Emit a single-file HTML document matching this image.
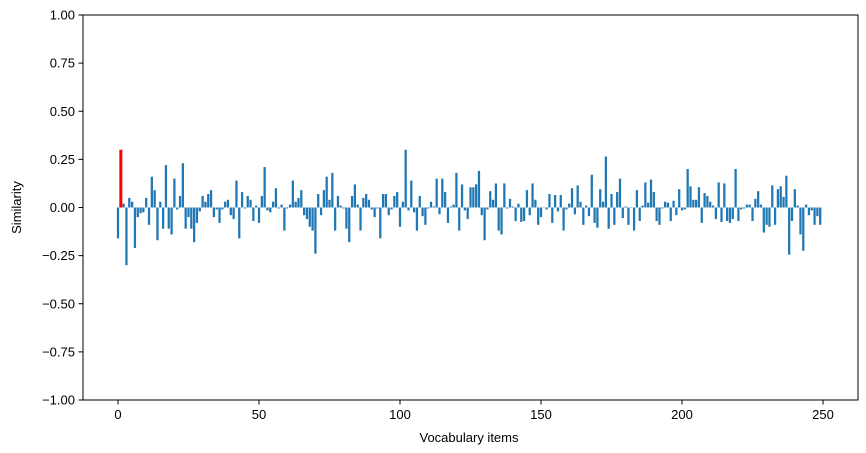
<!DOCTYPE html>
<html><head><meta charset="utf-8"><style>
body{margin:0;background:#fff;}
svg{display:block;font-family:"Liberation Sans","DejaVu Sans",sans-serif;}
</style></head><body>
<svg id="chart" width="866" height="453" viewBox="0 0 866 453" xmlns="http://www.w3.org/2000/svg">
<rect x="0" y="0" width="866" height="453" fill="#fff"/>
<g id="bars"></g>
<g id="axes"></g>
<rect x="83" y="15" width="775" height="385" fill="none" stroke="#000" stroke-width="1"/>
<text x="469" y="442" text-anchor="middle" font-size="13">Vocabulary items</text>
<text transform="translate(21,207.5) rotate(-90)" text-anchor="middle" font-size="13">Similarity</text>
</svg>
<script>
const values = [
-0.16,0.30,0.02,-0.30,0.05,0.03,-0.21,-0.05,-0.03,-0.025,
0.05,-0.09,0.16,0.09,-0.17,0.03,-0.11,0.22,-0.11,-0.14,
0.15,-0.01,0.06,0.23,-0.11,-0.05,-0.11,-0.18,-0.08,-0.02,
0.06,0.03,0.07,0.09,-0.05,-0.01,-0.08,-0.01,0.03,0.04,
-0.04,-0.06,0.14,-0.16,0.08,-0.005,0.06,0.04,-0.07,0.01,
-0.08,0.06,0.21,-0.015,-0.025,0.03,0.10,-0.005,0.015,-0.12,
-0.005,0.015,0.14,0.03,0.05,0.09,-0.04,-0.06,-0.10,-0.12,
-0.24,0.07,-0.04,0.09,0.16,0.04,0.18,-0.12,0.06,0.01,
-0.005,-0.11,-0.18,0.06,0.12,0.015,-0.12,0.05,0.07,0.04,
-0.01,-0.05,-0.005,-0.16,0.07,0.07,-0.04,-0.01,0.06,0.08,
-0.10,0.03,0.30,-0.015,0.14,-0.025,-0.12,0.06,-0.045,-0.09,
-0.005,0.03,0.005,0.15,-0.035,0.15,0.08,-0.08,0.005,0.015,
0.18,-0.12,0.12,-0.015,-0.06,0.105,0.105,0.12,0.19,-0.04,
-0.17,-0.01,0.085,0.04,0.125,-0.12,-0.14,0.125,-0.005,0.045,
0.005,-0.07,0.02,-0.075,-0.07,0.09,-0.04,0.125,0.04,-0.09,
-0.05,0.0,-0.01,0.07,-0.08,0.065,-0.02,0.065,-0.12,-0.01,
0.02,0.10,-0.035,0.115,0.03,-0.09,0.01,-0.045,0.17,-0.08,
-0.105,0.095,0.03,0.265,-0.11,0.07,-0.09,0.08,0.15,-0.055,
0.005,-0.09,0.0,-0.12,0.09,-0.07,0.01,0.13,0.025,0.145,
0.08,-0.07,-0.09,-0.005,0.03,0.025,-0.07,0.035,-0.04,0.095,
-0.015,-0.01,0.20,0.11,0.04,0.04,0.105,-0.08,0.075,0.06,
0.03,0.01,-0.06,0.13,-0.075,0.125,-0.07,-0.08,-0.06,0.20,
-0.07,-0.01,-0.005,0.015,0.015,-0.07,0.045,0.085,0.015,-0.13,
-0.09,-0.10,0.115,-0.09,0.095,0.11,0.055,0.165,-0.245,-0.07,
0.095,0.01,-0.14,-0.225,0.015,-0.04,-0.015,-0.09,-0.045,-0.09
];
const highlightIndex = 1;
const xTicks = [0,50,100,150,200,250];
const yTicks = [-1,-0.75,-0.5,-0.25,0,0.25,0.5,0.75,1];

const NS="http://www.w3.org/2000/svg";
const X0=83,X1=858,Y0=15,Y1=400,xmin=-12.41,xmax=262.4,ymin=-1,ymax=1;
function xs(v){return X0+(v-xmin)/(xmax-xmin)*(X1-X0);}
function ys(v){return Y1-(v-ymin)/(ymax-ymin)*(Y1-Y0);}
const bars=document.getElementById('bars');
const axes=document.getElementById('axes');
const bw=0.8*(X1-X0)/(xmax-xmin);
values.forEach((v,i)=>{
  const r=document.createElementNS(NS,'rect');
  const hi=i===highlightIndex;
  const w=hi?3:bw;
  r.setAttribute('x',xs(i)-w/2);
  r.setAttribute('y',Math.min(ys(v),ys(0)));
  r.setAttribute('width',w);
  r.setAttribute('height',Math.max(Math.abs(ys(v)-ys(0)),0.3));
  r.setAttribute('fill',hi?'#ff0000':'#1f77b4');
  
  
  bars.appendChild(r);
});
xTicks.forEach(t=>{
  const l=document.createElementNS(NS,'line');
  l.setAttribute('x1',xs(t));l.setAttribute('x2',xs(t));
  l.setAttribute('y1',Y1);l.setAttribute('y2',Y1+4.5);
  l.setAttribute('stroke','#000');
  
  
  axes.appendChild(l);
  const tx=document.createElementNS(NS,'text');
  tx.setAttribute('x',xs(t));tx.setAttribute('y',Y1+19);
  tx.setAttribute('text-anchor','middle');tx.setAttribute('font-size','13');
  tx.textContent=t;
  
  
  axes.appendChild(tx);
});
yTicks.forEach(t=>{
  const l=document.createElementNS(NS,'line');
  l.setAttribute('x1',X0-4.5);l.setAttribute('x2',X0);
  l.setAttribute('y1',ys(t));l.setAttribute('y2',ys(t));
  l.setAttribute('stroke','#000');
  
  
  axes.appendChild(l);
  const tx=document.createElementNS(NS,'text');
  tx.setAttribute('x',X0-8);tx.setAttribute('y',ys(t)+4.5);
  tx.setAttribute('text-anchor','end');tx.setAttribute('font-size','13');
  tx.textContent=t.toFixed(2).replace('-','\u2212');
  
  
  axes.appendChild(tx);
});
</script>
</body></html>
